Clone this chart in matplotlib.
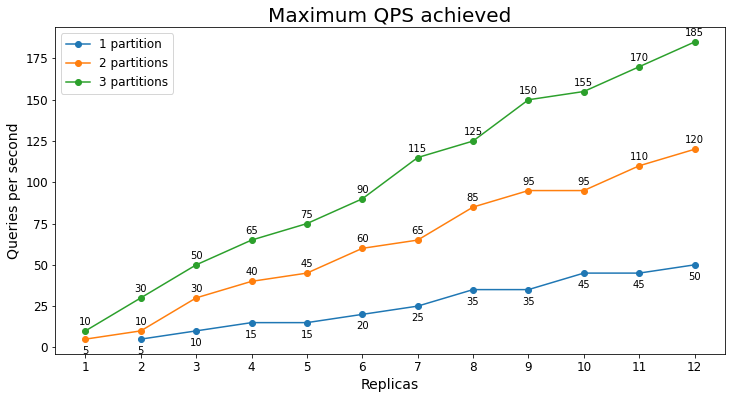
import numpy as np
import matplotlib.pyplot as plt

replicas = list(range(1, 13))
qps_1 = [None, 5, 10, 15, 15, 20, 25, 35, 35, 45, 45, 50]
qps_2 = [5, 10, 30, 40, 45, 60, 65, 85, 95, 95, 110, 120]
qps_3 = [10, 30, 50, 65, 75, 90, 115, 125, 150, 155, 170, 185]
labels = ["1 partition", "2 partitions", "3 partitions"]

fig, ax = plt.subplots(figsize=(735 / 72, 399 / 72), dpi=72)
fig.subplots_adjust(left=0.0748, right=0.9864, top=0.932, bottom=0.1128)

for i, (vals, lab) in enumerate(zip([qps_1, qps_2, qps_3], labels)):
    xs = [r for r, v in zip(replicas, vals) if v is not None]
    ys = [v for v in vals if v is not None]
    ax.plot(xs, ys, marker="o", markersize=6, label=lab)
    for j, (x, y) in enumerate(zip(xs, ys)):
        # 1 partition labels go under the points
        below = (i == 0) or (i == 1 and j == 0)
        ax.annotate(str(y), (x, y), textcoords="offset points",
                    xytext=(0, -15 if below else 6), ha="center", fontsize=10)

ax.set_xticks(replicas)
ax.tick_params(labelsize=12)
ax.set_title("Maximum QPS achieved", fontsize=20)
ax.set_xlabel("Replicas", fontsize=14)
ax.set_ylabel("Queries per second", fontsize=14)
ax.legend(loc="upper left", fontsize=12)

fig.savefig("out.png", dpi=72)
